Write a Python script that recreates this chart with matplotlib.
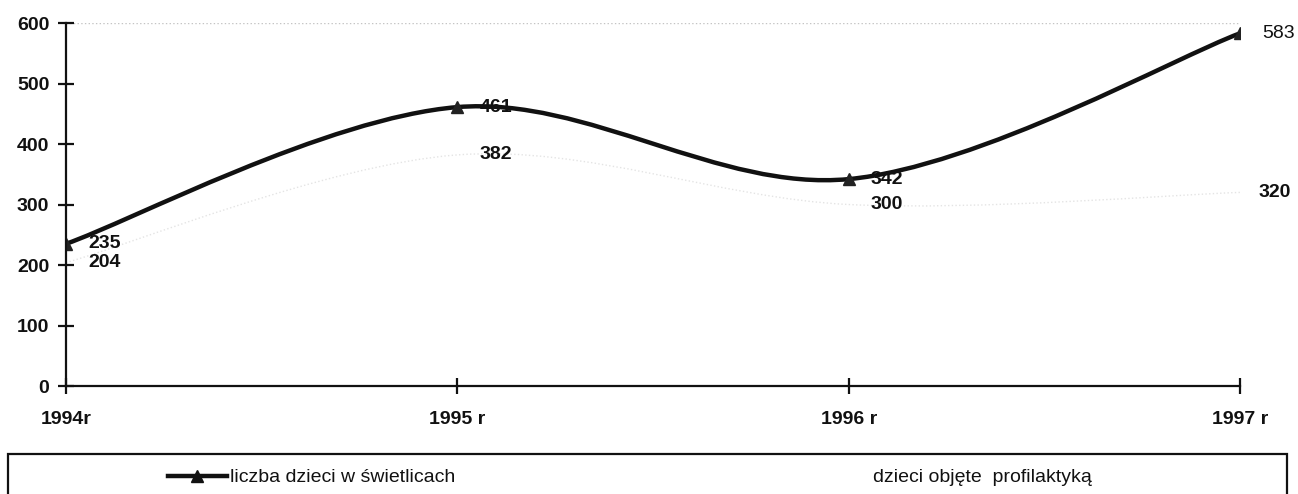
import matplotlib
matplotlib.use("Agg")
import matplotlib.pyplot as plt
from matplotlib.path import Path
from matplotlib.patches import PathPatch, Rectangle
from matplotlib.lines import Line2D
import numpy as np

# data
years = ["1994r", "1995 r", "1996 r", "1997 r"]
swietlice = [235, 461, 342, 583]
profilaktyka = [204, 382, 300, 320]
labels_swietlice = ["235", "461", "342", "583"]
labels_profil = ["204", "382", "300", "320"]

plt.rcParams['font.family'] = ['Liberation Sans', 'DejaVu Sans']


# smoothed line like the old spreadsheet chart (bezier through the points)
def smooth_path(xs, ys):
    pts = np.column_stack([xs, ys]).astype(float)
    n = len(pts)
    verts = [pts[0]]
    codes = [Path.MOVETO]
    for i in range(n - 1):
        p0 = pts[max(i - 1, 0)]
        p1 = pts[i]
        p2 = pts[i + 1]
        p3 = pts[min(i + 2, n - 1)]
        c1 = p1 + (p2 - p0) / 6.0
        c2 = p2 - (p3 - p1) / 6.0
        verts += [c1, c2, p2]
        codes += [Path.CURVE4] * 3
    return Path(verts, codes)


fig = plt.figure(figsize=(12.98, 4.94), dpi=100)
ax = fig.add_axes([0.0508, 0.2186, 0.9045, 0.7348])

x = np.arange(len(years))
fs = 14

# second series is almost invisible on the scan
ax.add_patch(PathPatch(smooth_path(x, profilaktyka), facecolor='none',
                       edgecolor='#e4e4e4', lw=1, ls=':'))
ax.add_patch(PathPatch(smooth_path(x, swietlice), facecolor='none',
                       edgecolor='#111111', lw=3.2, capstyle='round'))
ax.plot(x, swietlice, ls='none', marker='^', ms=8, color='#222222')

for xi, v, t in zip(x, swietlice, labels_swietlice):
    ax.annotate(t, (xi, v), xytext=(16, 0), textcoords='offset points',
                fontsize=fs, fontweight='bold' if xi < 3 else 'normal',
                va='center', ha='left', color='#111111')
for xi, v, t in zip(x, profilaktyka, labels_profil):
    ax.annotate(t, (xi, v), xytext=(16 if xi < 3 else 13, 0),
                textcoords='offset points', fontsize=fs, fontweight='bold',
                va='center', ha='left', color='#111111')

ax.axhline(600, color='#c4c4c4', lw=1, ls=':', zorder=0)

ax.set_xlim(0, 3)
ax.set_ylim(0, 600)
ax.set_xticks(x)
ax.set_xticklabels(years)
ax.set_yticks(np.arange(0, 601, 100))
for s in ['top', 'right']:
    ax.spines[s].set_visible(False)
for s in ['left', 'bottom']:
    ax.spines[s].set_linewidth(1.6)
    ax.spines[s].set_color('#111111')
ax.tick_params(direction='inout', length=12, width=1.6, colors='#111111',
               labelsize=fs)
for lab in ax.get_xticklabels() + ax.get_yticklabels():
    lab.set_fontweight('bold')
ax.tick_params(axis='x', pad=12)
ax.tick_params(axis='y', pad=6)

# legend box along the bottom
fig.patches.append(Rectangle((8 / 1298, -0.02), 1279 / 1298, 0.101,
                             transform=fig.transFigure, fill=False,
                             edgecolor='#111111', lw=1.6))
fig.lines.append(Line2D([168 / 1298, 197 / 1298, 227 / 1298],
                        [0.036, 0.036, 0.036],
                        transform=fig.transFigure, color='#111111', lw=3.2,
                        marker='^', markevery=[1], ms=8))
fig.text(230 / 1298, 0.034, "liczba dzieci w świetlicach", fontsize=fs,
         va='center', ha='left', color='#111111')
fig.text(873 / 1298, 0.034, "dzieci objęte  profilaktyką", fontsize=fs,
         va='center', ha='left', color='#111111')

fig.savefig("out.png", dpi=100)
